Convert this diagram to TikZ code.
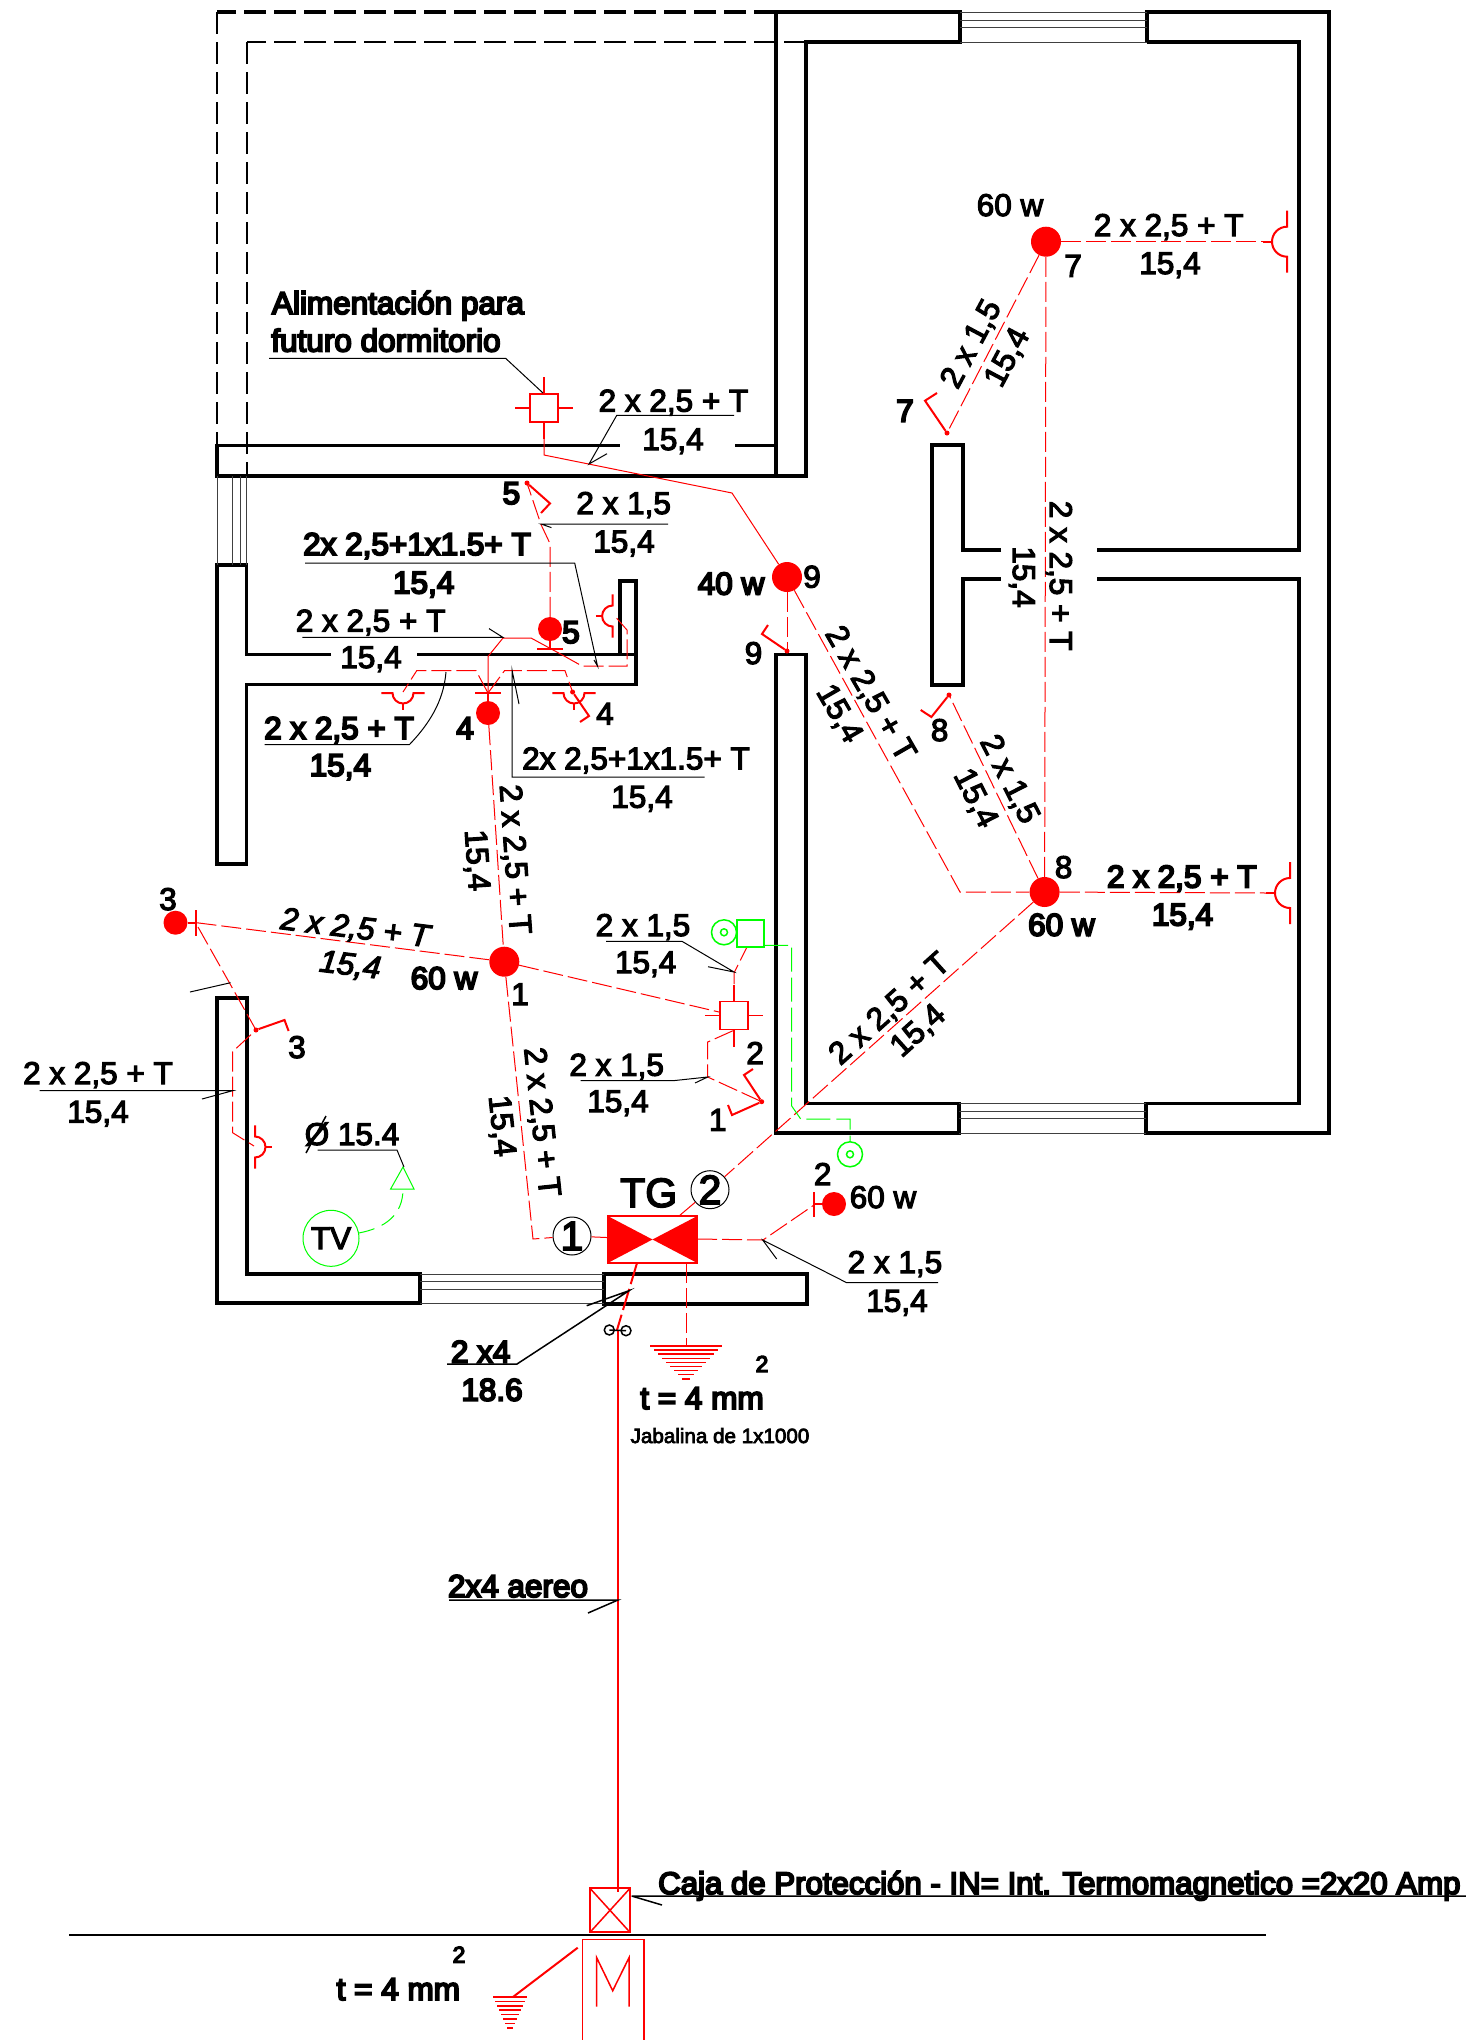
\documentclass[tikz,border=0pt]{standalone}
\usepackage{fontspec}
\usetikzlibrary{calc}
\newfontfamily\planfont{Liberation Sans}[FakeBold=3.6]
\newfontfamily\planbold{Liberation Sans}[FakeBold=6]
\newfontfamily\planslant{Liberation Sans Italic}[FakeBold=3.6]
\definecolor{cadred}{RGB}{255,0,0}
\definecolor{cadgreen}{RGB}{0,255,0}
\tikzset{
	lamp_node/.style={circle,fill=cadred,minimum size=30pt,inner sep=0pt},
	small_lamp/.style={circle,fill=cadred,minimum size=24pt,inner sep=0pt},
	box_node/.style={rectangle,draw=cadred,line width=1.5pt,minimum size=28pt,inner sep=0pt},
	ring_node/.style={circle,draw,line width=1pt,minimum size=38pt,inner sep=0pt,font=\planfont\fontsize{41}{43}\selectfont},
	dot_node/.style={circle,fill=cadred,minimum size=5pt,inner sep=0pt},
	wall/.style={line width=3.2pt,line join=miter},
	wall_dash/.style={dash pattern=on 22pt off 8pt},
	glass/.style={line width=1pt,black!75},
	wire/.style={cadred,line width=1pt,dash pattern=on 20pt off 5pt},
	wire_solid/.style={cadred,line width=1pt},
	wire_main/.style={cadred,line width=2pt},
	switch_line/.style={cadred,line width=2pt,line join=miter},
	tv_wire/.style={cadgreen,line width=1pt},
	note_line/.style={black,line width=1pt},
	label_txt/.style={anchor=base,inner sep=0pt,font=\planfont\fontsize{31.5}{33}\selectfont},
	label_bold/.style={anchor=base,inner sep=0pt,font=\planbold\fontsize{31.5}{33}\selectfont},
	label_slant/.style={anchor=base,inner sep=0pt,font=\planslant\fontsize{31.5}{33}\selectfont},
	socket/.pic={
		\draw[cadred,line width=2pt] (0,-31)--(0,-15) arc (-90:-270:15) -- (0,31);
		\draw[cadred,line width=2pt] (-24,0)--(-15,0);
	},
	box_ticks/.pic={
		\draw[cadred,line width=1.5pt] (0,-31)--(0,-14) (0,14)--(0,31) (-29,0)--(-14,0) (14,0)--(29,0);
	},
	ground_mark/.pic={
		\foreach \k in {0,...,8}
			\draw[cadred,line width=1.5pt] ({-36+\k*4},{\k*4.1})--({36-\k*4},{\k*4.1});
	}
}
\begin{document}
\begin{tikzpicture}[x=1pt,y=-1pt]
	\useasboundingbox (0,0) rectangle (1466,2040);

	% walls
	\draw[wall] (776,12) -- (960,12) -- (960,42) -- (806,42) -- (806,476) -- (217,476) -- (217,445.7) -- (620,445.7);
	\draw[wall] (735,445.7) -- (776,445.7) (776,12) -- (776,476);
	\draw[wall] (1147,42) -- (1147,12) -- (1329,12) -- (1329,1133) -- (1146,1133) -- (1146,1103.5) -- (1299,1103.5) -- (1299,579) -- (1097,579);
	\draw[wall] (1097,550) -- (1299,550) -- (1299,42) -- (1147,42);
	\draw[wall] (1001,550) -- (963,550) -- (963,445) -- (932,445) -- (932,685) -- (963,685) -- (963,579) -- (1001,579);
	\draw[wall] (806,1103.5) -- (806,654.6) -- (776,654.6) -- (776,1133) -- (959,1133) -- (959,1103.5) -- cycle;
	\draw[wall] (331,654.6) -- (246.5,654.6) -- (246.5,565) -- (217,565) -- (217,864) -- (246.5,864) -- (246.5,684.5) -- (636,684.5) -- (636,581) -- (620,581) -- (620,654.6);
	\draw[wall] (417,654.6) -- (636,654.6);
	\draw[wall] (217,998) -- (247,998) -- (247,1274) -- (420,1274) -- (420,1303) -- (217,1303) -- cycle;
	\draw[wall] (604,1274) rectangle (807,1304);
	\draw[wall,wall_dash] (776,12) -- (217,12);
	\draw[line width=2.5pt,wall_dash] (806,42) -- (247,42);
	\draw[line width=1.5pt,wall_dash] (217,12) -- (217,446);
	\draw[line width=1.5pt,wall_dash] (247,42) -- (247,476);

	% windows
	\foreach \yy in {12,20,27,42}
		\draw[glass] (960,\yy) -- (1147,\yy);
	\foreach \yy in {1103.5,1111,1118,1133}
		\draw[glass] (959,\yy) -- (1146,\yy);
	\foreach \yy in {1274,1281,1289,1303}
		\draw[glass] (420,\yy) -- (604,\yy);
	\foreach \xx in {217,232,240,246.5}
		\draw[glass] (\xx,476) -- (\xx,565);
	\draw[line width=1.5pt] (69,1935) -- (1266,1935);

	% lamps, boxes and rings
	\node[lamp_node] (l_seven) at (1046,241.7) {};
	\node[lamp_node] (l_eight) at (1044.6,892) {};
	\node[lamp_node] (l_nine) at (787,577) {};
	\node[lamp_node] (l_one) at (504.3,961.7) {};
	\node[small_lamp] (l_three) at (175.5,922.7) {};
	\node[small_lamp] (l_four) at (488,713) {};
	\node[small_lamp] (l_five) at (550,629) {};
	\node[small_lamp] (l_two) at (834,1204) {};
	\node[box_node] (b_future) at (544,408) {};
	\node[box_node] (b_hall) at (734,1015.5) {};
	\node[ring_node] (r_one) at (572,1236) {1};
	\node[ring_node] (r_two) at (710,1189.7) {2};
	\node[rectangle,draw=cadred,line width=1.5pt,minimum width=89.6pt,minimum height=47pt,inner sep=0pt] (tg) at (652.5,1239.5) {};
	\fill[cadred] (607.7,1216) -- (652.5,1239.5) -- (697.3,1216) -- (697.3,1263) -- (652.5,1239.5) -- (607.7,1263) -- cycle;
	\pic at (b_future) {box_ticks};
	\pic at (b_hall) {box_ticks};

	% sockets
	\pic at (1287,241.7) {socket};
	\pic at (1290,893) {socket};
	\pic[scale=.7] at (612.6,616) {socket};
	\pic[scale=.7,rotate=180] at (255,1147) {socket};
	\pic[scale=.7,rotate=90] at (403,693) {socket};
	\pic[scale=.7,rotate=90] at (574,693) {socket};

	% lamp bars
	\draw[switch_line] (196,910) -- (196,936) (l_three) -- (196,922.7);
	\draw[switch_line] (475,693) -- (501,693) (488,693) -- (l_four);
	\draw[switch_line] (537,649) -- (563,649) (l_five) -- (550,649);
	\draw[switch_line] (814,1192) -- (814,1217) (814,1204) -- (l_two);

	% dashed circuits
	\path[wire]
		(l_seven) edge (l_eight)
		(l_seven) edge (1263,241.7)
		(l_eight) edge (1267,893)
		(l_nine) edge (787,651)
		(l_three) ++(21,0) edge (l_one)
		(l_one) edge (b_hall)
		(l_four) edge (l_one);
	\draw[wire] (l_seven) -- (947,433);
	\draw[wire] (l_eight) -- (949,695);
	\draw[wire] (l_nine) -- (960,892) -- (l_eight);
	\draw[wire] (l_eight) -- (r_two);
	\draw[wire] (r_two) -- (679,1216);
	\draw[wire] (l_one) -- (533,1239) -- (r_one);
	\draw[wire_solid] (r_one) -- (tg);
	\draw[wire] (697,1239) -- (763,1240) -- (814,1205);
	\draw[wire] (198,927) -- (256,1030) -- (232.6,1051.7) -- (232.6,1132.7) -- (254,1146);
	\draw[wire] (l_five) -- (550,543.6) -- (541,524.5) -- (527,483);
	\draw[wire_solid] (488,693) -- (488,656.5) -- (503,638) -- (531,638) -- (561.6,654.6);
	\draw[wire] (561.6,654.6) -- (582,666) -- (627,666) -- (627,630) -- (614.7,616);
	\draw[wire] (488,693) -- (476,670.7) -- (416.7,670.7) -- (403,692);
	\draw[wire] (488,693) -- (504.5,670.7) -- (565,670.7) -- (572.6,692);
	\draw[wire] (734,984) -- (734,973) -- (747,947);
	\draw[wire] (733,1030.7) -- (707.7,1042) -- (707.7,1077) -- (761.7,1101.7);
	\draw[wire_solid] (b_future) -- (544,455) -- (732,493) -- (l_nine);
	\draw[wire] (686,1263) -- (686,1345);
	\draw[wire_main,dash pattern=on 22pt off 5pt] (637,1263) -- (617,1330);
	\draw[wire_main] (618,1330) -- (618,1892);
	\pic at (686,1346) {ground_mark};

	% switch marks
	\foreach \n/\x/\y in {a/947/433,b/949/695,c/787/651,d/256/1030,e/527/483,f/572.6/692,g/761.7/1101.7}
		\node[dot_node] (dot_\n) at (\x,\y) {};
	\draw[switch_line] (dot_a) -- (925,400.7) -- (937,393);
	\draw[switch_line] (dot_b) -- (931.4,717) -- (920.7,710);
	\draw[switch_line] (dot_c) -- (762,634) -- (768,625);
	\draw[switch_line] (dot_d) -- (284.5,1020) -- (288.6,1031);
	\draw[switch_line] (dot_e) -- (550,503.4) -- (541,513);
	\draw[switch_line] (dot_f) -- (589,716) -- (580,722);
	\draw[switch_line] (dot_g) -- (732,1115) -- (728,1105);
	\draw[switch_line] (dot_g) -- (744,1075) -- (753,1069);

	% tv and telephone lines
	\node[circle,draw=cadgreen,line width=1pt,minimum size=56pt,inner sep=0pt,font=\planfont\fontsize{31.5}{33}\selectfont] (tv) at (331,1238.3) {TV};
	\draw[tv_wire] (403,1167) -- (390.6,1189) -- (414,1189) -- cycle;
	\draw[tv_wire,dash pattern=on 16pt off 8pt] (tv) .. controls (385,1228) and (403,1215) .. (403,1189);
	\node[circle,draw=cadgreen,line width=1.5pt,minimum size=25pt,inner sep=0pt] (tel_a) at (724,932.3) {};
	\node[circle,draw=cadgreen,line width=1.5pt,minimum size=7pt,inner sep=0pt] (tel_a_in) at (724,932.3) {};
	\node[circle,draw=cadgreen,line width=1.5pt,minimum size=25pt,inner sep=0pt] (tel_b) at (850,1154.3) {};
	\node[circle,draw=cadgreen,line width=1.5pt,minimum size=7pt,inner sep=0pt] (tel_b_in) at (850,1154.3) {};
	\node[rectangle,draw=cadgreen,line width=1.5pt,minimum size=27pt,inner sep=0pt] (tel_box) at (750.5,933.3) {};
	\draw[tv_wire,dash pattern=on 24pt off 6pt] (764,945.3) -- (791.7,945.3) -- (791.7,1106) -- (800.7,1119) -- (850,1119) -- (850,1141.7);
	\draw[tv_wire] (tel_b) -- (tel_b_in);

	% meter side
	\draw[wire_main] (590,1888.3) rectangle (630,1932.3);
	\draw[wire_solid,line width=1.5pt] (590,1888.3) -- (630,1932.3) (630,1888.3) -- (590,1932.3);
	\draw[wire_solid,line width=1.5pt] (582.3,2040) -- (582.3,1939.3) -- (644,1939.3) -- (644,2040);
	\draw[wire_solid,line width=1.5pt] (596.7,2006.7) -- (596.7,1957.7) -- (612.7,1990.7) -- (629,1957.7) -- (629,2006.7);
	\draw[wire_main] (577.7,1947.7) -- (513.3,1996.7);
	\foreach \k in {0,...,7}
		\draw[cadred,line width=1.5pt] ({510-17+\k*2},{1997+\k*4.4}) -- ({510+17-\k*2},{1997+\k*4.4});

	% fuse
	\node[circle,draw,line width=1.5pt,minimum size=10pt,inner sep=0pt] (fuse_a) at (609.3,1330) {};
	\node[circle,draw,line width=1.5pt,minimum size=10pt,inner sep=0pt] (fuse_b) at (626,1330.7) {};
	\draw[line width=1.5pt] (fuse_a.center) -- (fuse_b.center);

	% leaders
	\draw[note_line] (269,358.4) -- (505.7,358.4) -- (543,393);
	\draw[note_line] (734,415.4) -- (616.7,415.4) -- (589,464) -- (607,453.7);
	\draw[note_line] (668,524) -- (541,524) -- (551.4,527.6);
	\draw[note_line] (305,563) -- (574.7,563) -- (597.5,666) -- (594,660);
	\draw[note_line] (489,628.6) -- (503,637.4) -- (302.4,637.4);
	\draw[note_line] (264.5,744.6) -- (409.4,744.6) .. controls (435,718) and (444,695) .. (446,672);
	\draw[note_line] (704.5,777) -- (512,777) -- (512,670) -- (519,704);
	\draw[note_line] (190,992) -- (230.6,982.7);
	\draw[note_line] (39.6,1090.7) -- (232.6,1090.7) -- (202,1099);
	\draw[note_line] (317.5,1150) -- (397,1150) -- (404,1167);
	\draw[line width=1.5pt] (306,1153) -- (326,1116);
	\draw[note_line] (606,941.3) -- (682,941.3) -- (734,972) -- (708,966.7);
	\draw[note_line] (580.7,1080.7) -- (673,1080.7) -- (707.7,1077) -- (695,1083);
	\draw[note_line] (938,1282.7) -- (846.7,1282.7) -- (762.7,1240) -- (776.7,1259);
	\draw[line width=1.5pt] (447,1364) -- (517,1364) -- (629,1290.7) -- (586.7,1305.7);
	\draw[line width=1.5pt] (449,1600) -- (618,1600) -- (588,1613);
	\draw[line width=1.5pt] (631.7,1896) -- (1466,1896) (631.7,1896) -- (662,1905);

	% labels, upper rooms
	\node[label_txt] (t_sev_w) at (1010,216) {60 w};
	\node[label_txt] (t_sev) at (1073,276.7) {7};
	\node[label_txt] (t_sev_a) at (1168.7,236) {2 x 2,5 + T};
	\node[label_txt] (t_sev_b) at (1170,274) {15,4};
	\node[label_bold] (t_sev_sw) at (905,421.7) {7};
	\node[label_txt,rotate=62] (t_sw7_a) at (979.7,348.5) {2 x 1,5};
	\node[label_txt,rotate=62] (t_sw7_b) at (1015.7,361.9) {15,4};
	\node[label_txt,rotate=-90] (t_run_a) at (1050,575.7) {2 x 2,5 + T};
	\node[label_txt,rotate=-90] (t_run_b) at (1013,577) {15,4};
	\node[label_txt] (t_eig) at (1063.6,878) {8};
	\node[label_txt] (t_eig_sw) at (939.6,741) {8};
	\node[label_bold] (t_eig_w) at (1061.4,935.7) {60 w};
	\node[label_bold] (t_eig_a) at (1181.8,887.5) {2 x 2,5 + T};
	\node[label_bold] (t_eig_b) at (1182.5,925.4) {15,4};
	\node[label_txt,rotate=-63] (t_sw8_a) at (1001,783.6) {2 x 1,5};
	\node[label_txt,rotate=-63] (t_sw8_b) at (967,802.5) {15,4};
	\node[label_txt,rotate=-60] (t_nin_a) at (862,698.4) {2 x 2,5 + T};
	\node[label_txt,rotate=-60] (t_nin_b) at (831,718.4) {15,4};
	\node[label_txt,rotate=42] (t_tg_a) at (896,1016) {2 x 2,5 + T};
	\node[label_txt,rotate=42] (t_tg_b) at (924.4,1037.8) {15,4};
	\node[label_bold] (t_nin_w) at (731,594.5) {40 w};
	\node[label_txt] (t_nin) at (812,587.6) {9};
	\node[label_txt] (t_nin_sw) at (753.5,664) {9};

	% labels, future room and kitchen
	\node[label_bold] (t_fut_a) at (398,314) {Alimentación para};
	\node[label_bold] (t_fut_b) at (386,351.5) {futuro dormitorio};
	\node[label_txt] (t_fut_c) at (673.5,411.6) {2 x 2,5 + T};
	\node[label_txt] (t_fut_d) at (673,450) {15,4};
	\node[label_bold] (t_fiv_sw) at (511.4,504) {5};
	\node[label_txt] (t_fiv_a) at (623.7,514) {2 x 1,5};
	\node[label_txt] (t_fiv_b) at (624,552.4) {15,4};
	\node[label_bold] (t_kit_a) at (417,555) {2x 2,5+1x1.5+ T};
	\node[label_bold] (t_kit_b) at (423.7,593.4) {15,4};
	\node[label_txt] (t_kit_c) at (370.6,631.6) {2 x 2,5 + T};
	\node[label_txt] (t_kit_d) at (371,668) {15,4};
	\node[label_bold] (t_fiv) at (571,643) {5};
	\node[label_bold] (t_low_a) at (339,739) {2 x 2,5 + T};
	\node[label_bold] (t_low_b) at (340.4,776) {15,4};
	\node[label_bold] (t_fou) at (465,739) {4};
	\node[label_txt] (t_fou_sw) at (605,724.6) {4};
	\node[label_txt] (t_low_c) at (636,769.4) {2x 2,5+1x1.5+ T};
	\node[label_txt] (t_low_d) at (642,807.7) {15,4};
	\node[label_txt,rotate=-86] (t_col_a) at (505,860) {2 x 2,5 + T};
	\node[label_txt,rotate=-86] (t_col_b) at (467,861) {15,4};

	% labels, living room
	\node[label_slant,rotate=-7] (t_thr_a) at (354,938) {2 x 2,5 + T};
	\node[label_slant,rotate=-7] (t_thr_b) at (349,975) {15,4};
	\node[label_bold] (t_one_w) at (444,989) {60 w};
	\node[label_txt] (t_one) at (520,1005) {1};
	\node[label_txt] (t_thr) at (168,910) {3};
	\node[label_txt] (t_thr_sw) at (297,1058) {3};
	\node[label_txt] (t_lef_a) at (98,1084) {2 x 2,5 + T};
	\node[label_txt] (t_lef_b) at (98,1122.6) {15,4};
	\node[label_txt] (t_tv) at (352,1145) {Ø 15.4};
	\node[label_txt] (t_hal_a) at (643,936) {2 x 1,5};
	\node[label_txt] (t_hal_b) at (645.7,973) {15,4};
	\node[label_txt] (t_two_sw) at (755,1064) {2};
	\node[label_txt] (t_hal_c) at (616.7,1075.7) {2 x 1,5};
	\node[label_txt] (t_hal_d) at (618,1112) {15,4};
	\node[label_txt] (t_one_sw) at (717.7,1130.7) {1};
	\node[label_txt,rotate=-84] (t_tg_c) at (532,1123) {2 x 2,5 + T};
	\node[label_txt,rotate=-84] (t_tg_d) at (492,1127) {15,4};
	\node[label_txt,font=\planfont\fontsize{41}{43}\selectfont] (t_tg) at (648.7,1207) {TG};
	\node[label_txt] (t_two) at (822.7,1185) {2};
	\node[label_txt] (t_two_w) at (883,1208) {60 w};
	\node[label_txt] (t_tg_e) at (895,1273) {2 x 1,5};
	\node[label_txt] (t_tg_f) at (897,1311.7) {15,4};

	% labels, service entry
	\node[label_bold] (t_ent_a) at (480.7,1362.7) {2 x4};
	\node[label_bold] (t_ent_b) at (492,1400.7) {18.6};
	\node[label_bold] (t_gnd) at (702,1409) {t = 4 mm};
	\node[label_bold,font=\planbold\fontsize{23}{25}\selectfont] (t_gnd_sq) at (762,1372) {2};
	\node[label_txt,font=\planfont\fontsize{20.6}{22}\selectfont] (t_jab) at (720,1443) {Jabalina de 1x1000};
	\node[label_bold] (t_air) at (518,1597) {2x4 aereo};
	\node[label_bold,anchor=base west,font=\planbold\fontsize{31.2}{33}\selectfont] (t_caja) at (658,1894) {Caja de Protección - IN= Int. Termomagnetico =2x20 Amp};
	\node[label_bold] (t_met) at (398.3,2000) {t = 4 mm};
	\node[label_bold,font=\planbold\fontsize{23}{25}\selectfont] (t_met_sq) at (459,1962.7) {2};
\end{tikzpicture}
\end{document}
